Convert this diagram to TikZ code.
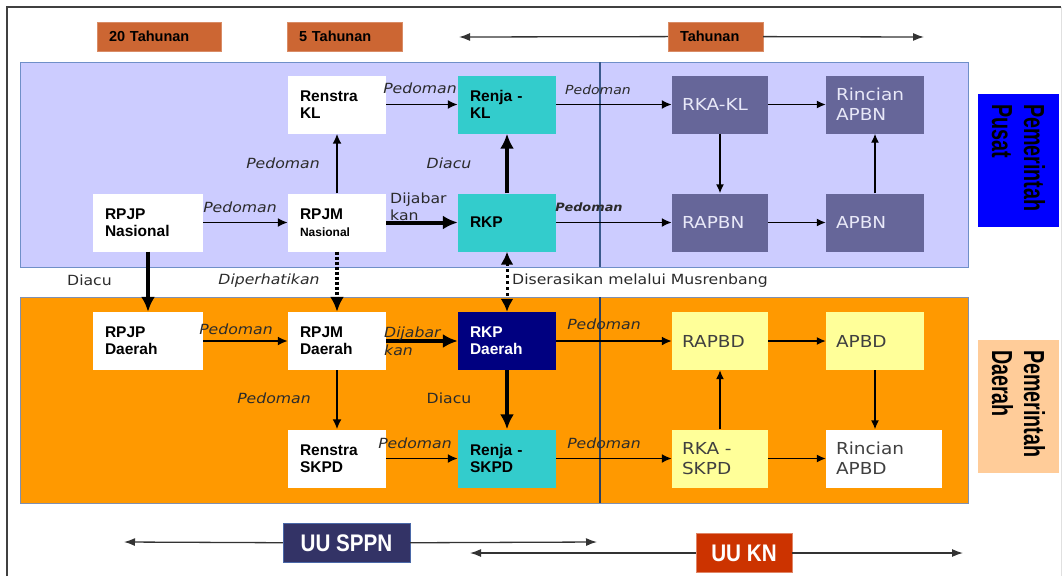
\documentclass[tikz,border=0pt]{standalone}
\usepackage{fontspec}
\setmainfont{Liberation Sans}
\newfontfamily\lblfont{DejaVu Sans}[FakeStretch=1.12]
\newfontfamily\condfont{Liberation Sans}[FakeStretch=0.68]
\newfontfamily\narrowfont{Liberation Sans}[FakeStretch=0.86]
\usepackage{tikz}
\usetikzlibrary{
    arrows.meta,
    positioning
}
\definecolor{titlebg}{HTML}{CC6633}
\definecolor{pusatbg}{HTML}{CCCCFF}
\definecolor{pusatline}{HTML}{6F8FC8}
\definecolor{daerahbg}{HTML}{FF9900}
\definecolor{daerahline}{HTML}{8090B0}
\definecolor{divline}{HTML}{3A5A8C}
\definecolor{cyanbox}{HTML}{33CCCC}
\definecolor{slatebox}{HTML}{666699}
\definecolor{slatetext}{HTML}{E8E8F8}
\definecolor{navybox}{HTML}{000080}
\definecolor{yellowbox}{HTML}{FFFF99}
\definecolor{yellowtext}{HTML}{404040}
\definecolor{pusatside}{HTML}{0000FF}
\definecolor{daerahside}{HTML}{FFCC99}
\definecolor{sppnbg}{HTML}{333366}
\definecolor{sppnline}{HTML}{4A68A8}
\definecolor{knbg}{HTML}{CC3300}
\definecolor{lbltext}{HTML}{2B2B2B}
\tikzset{
    planbox/.style={rectangle, fill=white, inner xsep=12pt, inner ysep=0pt,
        minimum height=58pt, text width=74pt, align=left,
        font=\fontsize{15.5}{17}\selectfont\bfseries},
    budgetbox/.style={planbox, inner xsep=10pt, text width=76pt,
        font=\lblfont\fontsize{16.5}{20}\selectfont, fill=slatebox, text=slatetext},
    budgetboxd/.style={budgetbox, fill=yellowbox, text=yellowtext},
    titlebox/.style={rectangle, fill=titlebg, draw=titlebg!75!white, inner xsep=12pt,
        inner ysep=0pt, minimum height=29pt, align=left,
        font=\fontsize{14.5}{16}\selectfont\bfseries},
    sidebox/.style={rectangle, rotate=-90, minimum width=133pt, minimum height=81pt,
        inner xsep=10pt, text width=113pt, align=left,
        font=\condfont\bfseries\fontsize{29}{32}\selectfont},
    lawbox/.style={rectangle, text=white, minimum height=39pt, inner sep=0pt,
        font=\narrowfont\bfseries\fontsize{24}{26}\selectfont},
    lbl/.style={inner sep=0pt, text=lbltext, font=\lblfont\fontsize{14}{17}\selectfont},
    lbli/.style={lbl, font=\lblfont\itshape\fontsize{14}{18}\selectfont},
    lbls/.style={lbl, font=\lblfont\itshape\fontsize{12.5}{15}\selectfont},
    conn/.style={-{Latex[length=10pt, width=9pt]}, line width=1.8pt},
    connthin/.style={-{Latex[length=9pt, width=8pt]}, line width=1.4pt},
    connbold/.style={-{Latex[length=15pt, width=14pt]}, line width=4pt},
    conndash/.style={connbold, dash pattern=on 3.5pt off 1.5pt},
    conndots/.style={{Latex[length=13pt, width=13pt]}-{Latex[length=13pt, width=13pt]},
        line width=3pt, dash pattern=on 3pt off 3pt},
    timeline/.style={-{Latex[length=11pt, width=8pt]}, line width=1.3pt, draw=black!80}
}

\begin{document}
\begin{tikzpicture}[x=1pt, y=-1pt]
    \useasboundingbox (0,0) rectangle (1064,576);
    \draw[black!75, line width=1.5pt] (7,576) -- (7,7) -- (1061,7);
    \draw[black!12] (1061,7) -- (1061,576);

    % panels
    \draw[pusatline, fill=pusatbg, line width=1pt] (20,62) rectangle (968,267);
    \draw[daerahline, fill=daerahbg, line width=1pt] (20,297) rectangle (968,503);
    \draw[divline, line width=1.2pt] (600,62) -- (600,267);
    \draw[divline!70!black, line width=1.4pt] (600,297) -- (600,503);

    % time spans
    \node[titlebox, text width=100pt] (t20) at (159,36.5) {20 Tahunan};
    \node[titlebox, text width=91pt] (t5) at (344.5,36.5) {5 Tahunan};
    \node[titlebox, text width=71pt] (t1) at (715.5,36.5) {Tahunan};
    \coordinate (t1l) at (459,37);
    \coordinate (t1r) at (924,37);
    \draw[timeline] (t1) -- (t1l);
    \draw[timeline] (t1) -- (t1r);

    % pemerintah pusat
    \node[planbox] (rstkl) at (337,104.5) {Renstra\\KL};
    \node[planbox, fill=cyanbox] (rjkl) at (507,104.5) {Renja -\\KL};
    \node[planbox, text width=86pt] (rpjpn) at (148,222.5) {RPJP\\Nasional};
    \node[planbox] (rpjmn) at (337,222.5) {RPJM\\{\fontsize{12}{14}\selectfont Nasional}};
    \node[planbox, fill=cyanbox] (rkp) at (507,222.5) {RKP};
    \node[budgetbox] (rkakl) at (720,104.5) {RKA-KL};
    \node[budgetbox, text width=78pt] (rincn) at (875,104.5) {Rincian\\APBN};
    \node[budgetbox] (rapbn) at (720,222.5) {RAPBN};
    \node[budgetbox, text width=78pt] (apbn) at (875,222.5) {APBN};
    \node[sidebox, fill=pusatside] (pusat) at (1018.5,160.5) {Pemerintah\\Pusat};

    % pemerintah daerah
    \node[planbox, text width=86pt] (rpjpd) at (148,341) {RPJP\\Daerah};
    \node[planbox] (rpjmd) at (337,341) {RPJM\\Daerah};
    \node[planbox, fill=navybox, text=white] (rkpd) at (507,341) {RKP\\Daerah};
    \node[planbox] (rstskpd) at (337,458.5) {Renstra\\SKPD};
    \node[planbox, fill=cyanbox] (rjskpd) at (507,458.5) {Renja -\\SKPD};
    \node[budgetboxd] (rapbd) at (720,341) {RAPBD};
    \node[budgetboxd, text width=78pt] (apbd) at (875,341) {APBD};
    \node[budgetboxd] (rkaskpd) at (720,458.5) {RKA -\\SKPD};
    \node[budgetboxd, fill=white, text width=96pt] (rincd) at (884,458.5) {Rincian\\APBD};
    \node[sidebox, fill=daerahside] (daerah) at (1018.5,406.5) {Pemerintah\\Daerah};

    % arrows, pusat
    \draw[conn] (rstkl) -- (rjkl);
    \draw[conn] (rpjmn) -- (rstkl);
    \draw[connbold] (rkp) -- (rjkl);
    \draw[conn] (rpjpn) -- (rpjmn);
    \draw[connbold] (rpjmn) -- (rkp);
    \draw[conn] (rjkl) -- (rkakl);
    \draw[conn] (rkp) -- (rapbn);
    \draw[connthin] (rkakl) -- (rincn);
    \draw[connthin] (rkakl) -- (rapbn);
    \draw[connthin] (rapbn) -- (apbn);
    \draw[connthin] (apbn) -- (rincn);

    % arrows, between
    \draw[connbold] (rpjpn) -- (rpjpd);
    \draw[conndash] (rpjmn) -- (rpjmd);
    \draw[conndots] (rkp) -- (rkpd);

    % arrows, daerah
    \draw[conn] (rpjpd) -- (rpjmd);
    \draw[connbold] (rpjmd) -- (rkpd);
    \draw[conn] (rpjmd) -- (rstskpd);
    \draw[connbold] (rkpd) -- (rjskpd);
    \draw[conn] (rstskpd) -- (rjskpd);
    \draw[conn] (rkpd) -- (rapbd);
    \draw[conn] (rjskpd) -- (rkaskpd);
    \draw[connthin] (rapbd) -- (apbd);
    \draw[connthin] (rkaskpd) -- (rapbd);
    \draw[connthin] (apbd) -- (apbd |- rincd.north);
    \draw[connthin] (rkaskpd) -- (rincd);

    % labels
    \node[lbli] (l1) at (420,88.5) {Pedoman};
    \node[lbli] (l2) at (283,163) {Pedoman};
    \node[lbli] (l3) at (449,163) {Diacu};
    \node[lbli] (l4) at (240,207.5) {Pedoman};
    \node[lbl, align=left, anchor=west] (l5) at (390,207) {Dijabar\\kan};
    \node[lbls] (l6) at (598,89.5) {Pedoman};
    \node[lbls, font=\lblfont\bfseries\itshape\fontsize{11.5}{14}\selectfont] (l7) at (589,207) {Pedoman};
    \node[lbl] (l8) at (89.5,280.5) {Diacu};
    \node[lbli] (l9) at (269,281) {Diperhatikan};
    \node[lbl, anchor=west] (l10) at (512,281) {Diserasikan  melalui  Musrenbang};
    \node[lbli] (l11) at (236,329) {Pedoman};
    \node[lbli, align=left, anchor=west] (l12) at (384,341) {Dijabar\\kan};
    \node[lbli] (l13) at (274,398) {Pedoman};
    \node[lbl] (l14) at (449,398) {Diacu};
    \node[lbli] (l15) at (415,443) {Pedoman};
    \node[lbli] (l16) at (604,324.5) {Pedoman};
    \node[lbli] (l17) at (604,443) {Pedoman};

    % laws
    \node[lawbox, fill=sppnbg, draw=sppnline, minimum width=127pt] (sppn) at (346.5,543) {UU SPPN};
    \node[lawbox, fill=knbg, draw=knbg!60!white, minimum width=96pt] (kn) at (744,553) {UU KN};
    \coordinate (sppnl) at (124,542);
    \coordinate (sppnr) at (597,542);
    \coordinate (knl) at (470,553);
    \coordinate (knr) at (963,553);
    \draw[timeline] (sppn) -- (sppnl);
    \draw[timeline] (sppn) -- (sppnr);
    \draw[timeline] (kn) -- (knl);
    \draw[timeline] (kn) -- (knr);
\end{tikzpicture}
\end{document}
